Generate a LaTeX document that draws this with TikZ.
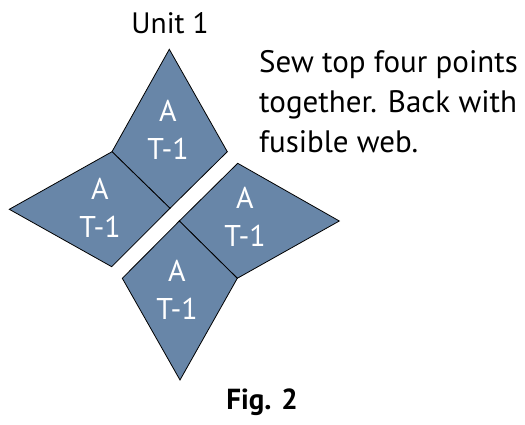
\documentclass[tikz,border=0pt]{standalone}
\usepackage{fontspec}
\setmainfont{PT Sans}
\usetikzlibrary{positioning}
\definecolor{patchblue}{RGB}{104,134,168}
\tikzset{
     piece/.style = {draw=black, fill=patchblue, line width=0.8pt, line join=miter},
     piece label/.style = {text=white, align=center, font=\fontsize{30}{38}\selectfont},
     caption text/.style = {font=\fontsize{31}{40}\selectfont, align=left},
     fig label/.style = {font=\bfseries\fontsize{29}{32}\selectfont},
    }

\begin{document}
\begin{tikzpicture}[x=1pt, y=-1pt]
        \useasboundingbox (0,0) rectangle (525,425);
        % corners
        \coordinate (top) at (169.3,49.3);
        \coordinate (tr) at (227.3,151.7);
        \coordinate (tl) at (112,151.7);
        \coordinate (mid1) at (170,208.3);
        \coordinate (left) at (9.3,209.3);
        \coordinate (lb) at (111.7,266.7);
        \coordinate (rt) at (237.7,163.3);
        \coordinate (right) at (339.3,221);
        \coordinate (rb) at (237.3,278.3);
        \coordinate (mid2) at (179.3,221);
        \coordinate (bl) at (122.3,278.3);
        \coordinate (bottom) at (180,380);

        % the four points
        \draw [piece] (top) -- (tr) -- (mid1) -- (tl) -- cycle;
        \draw [piece] (tl) -- (mid1) -- (lb) -- (left) -- cycle;
        \draw [piece] (rt) -- (right) -- (rb) -- (mid2) -- cycle;
        \draw [piece] (mid2) -- (rb) -- (bottom) -- (bl) -- cycle;

        \node [piece label] (a1) at (168,130) {A\\T-1};
        \node [piece label] (a2) at (100,208) {A\\T-1};
        \node [piece label] (a3) at (245,217) {A\\T-1};
        \node [piece label] (a4) at (177,290) {A\\T-1};

        \node [font=\fontsize{29.5}{34}\selectfont, anchor=base] (unit) at (170,34) {Unit 1};
        \node [caption text, anchor=north west, inner sep=0pt] (note) at (259,50) {Sew top four points\\together. Back with\\fusible web.};
        \node [fig label, anchor=base] (fig) at (262,409) {Fig. 2};
    \end{tikzpicture}
\end{document}
